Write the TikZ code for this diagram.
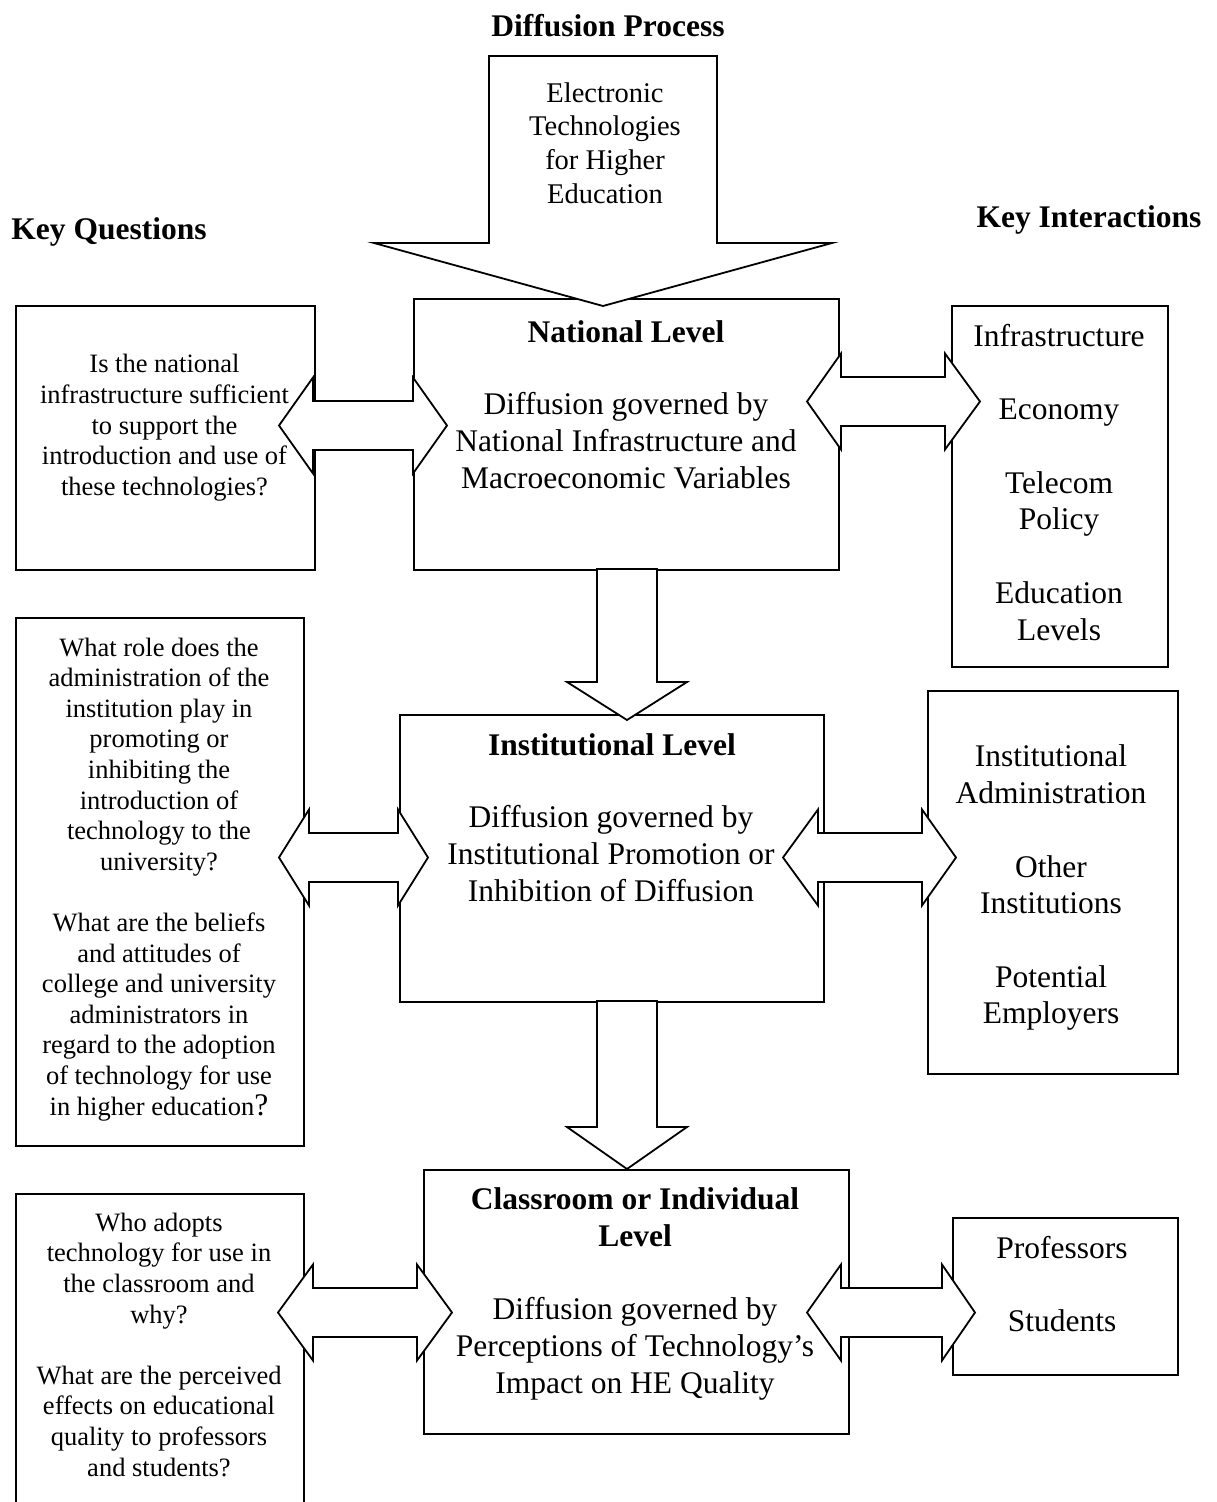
\documentclass[tikz,border=0pt]{standalone}
\usepackage{fontspec}
\setmainfont{Liberation Serif}
\begin{document}
\begin{tikzpicture}[x=1pt,y=-1pt,line width=1.8pt,line join=miter,
  box/.style={draw,rectangle,inner sep=0pt,anchor=north west},
  blockarrow/.style={draw,fill=white},
  txt/.style={align=center,inner sep=0pt,yshift=-4.5pt,execute at begin node=\strut,execute at end node=\strut},
  big/.style={txt,font=\fontsize{31.5}{37}\selectfont},
  bighead/.style={txt,font=\bfseries\fontsize{31.5}{37}\selectfont},
  small/.style={txt,font=\fontsize{26.5}{30.6}\selectfont},
  tech/.style={txt,font=\fontsize{28.5}{33.7}\selectfont}]
\useasboundingbox (0,0) rectangle (1217,1502);

% boxes
\node[box,minimum width=425pt,minimum height=271pt] (nat) at (413,298) {};
\node[box,minimum width=424pt,minimum height=287pt] (inst) at (399,714) {};
\node[box,minimum width=425pt,minimum height=264pt] (cls) at (423,1169) {};
\node[box,minimum width=299pt,minimum height=264pt] (q1) at (15,305) {};
\node[box,minimum width=288pt,minimum height=528pt] (q2) at (15,617) {};
\node[box,minimum width=288pt,minimum height=330pt] (q3) at (15,1193) {};
\node[box,minimum width=216pt,minimum height=361pt] (k1) at (951,305) {};
\node[box,minimum width=250pt,minimum height=383pt] (k2) at (927,690) {};
\node[box,minimum width=225pt,minimum height=157pt] (k3) at (952,1217) {};

% block arrows
\newcommand\dblarr[5]{%
 \draw[blockarrow] (#1,#5) -- (#2,{#5-48}) -- (#2,{#5-24.5}) -- (#3,{#5-24.5}) -- (#3,{#5-48}) -- (#4,#5)
   -- (#3,{#5+48}) -- (#3,{#5+24.5}) -- (#2,{#5+24.5}) -- (#2,{#5+48}) -- cycle;}
\draw[blockarrow] (489,56) -- (717,56) -- (717,243) -- (832,243) -- (603,306) -- (374,243) -- (489,243) -- cycle;
\draw[blockarrow] (597,569) -- (657,569) -- (657,682) -- (687,682) -- (627,720) -- (567,682) -- (597,682) -- cycle;
\draw[blockarrow] (597,1001) -- (657,1001) -- (657,1127) -- (687,1127) -- (627,1169) -- (567,1127) -- (597,1127) -- cycle;
\dblarr{279}{313}{413}{447}{425.5}
\dblarr{807}{841}{945}{980}{401.5}
\dblarr{279}{309}{398}{428}{857.5}
\dblarr{783}{818}{922}{956}{857.5}
\dblarr{278}{313}{417}{452}{1312.5}
\dblarr{807}{841}{942}{975}{1312.5}

% headings
\node[bighead] (title) at (608,25) {Diffusion Process};
\node[bighead] (kq) at (109,228) {Key Questions};
\node[bighead] (ki) at (1089,216) {Key Interactions};

% texts
\node[tech] (tech) at (605,143.5) {Electronic\\Technologies\\for Higher\\Education};

\node[bighead] (natH) at (626,331) {National Level};
\node[big] (natB) at (626,441) {Diffusion governed by\\National Infrastructure and\\Macroeconomic Variables};

\node[bighead] (instH) at (612,744) {Institutional Level};
\node[big] (instB) at (611,854) {Diffusion governed by\\Institutional Promotion or\\Inhibition of Diffusion};

\node[bighead] (clsH) at (635,1218.5) {Classroom or Individual\\Level};
\node[big] (clsB) at (635,1346.5) {Diffusion governed by\\Perceptions of Technology’s\\Impact on HE Quality};

\node[small] (q1T) at (164.5,425) {Is the national\\infrastructure sufficient\\to support the\\introduction and use of\\these technologies?};
\node[small] (q2T) at (159,876.5) {What role does the\\administration of the\\institution play in\\promoting or\\inhibiting the\\introduction of\\technology to the\\university?\\ \\What are the beliefs\\and attitudes of\\college and university\\administrators in\\regard to the adoption\\of technology for use\\in higher education{\fontsize{31.5}{30.6}\selectfont ?}};
\node[small] (q3T) at (159,1344.5) {Who adopts\\technology for use in\\the classroom and\\why?\\ \\What are the perceived\\effects on educational\\quality to professors\\and students?};

\node[big,font=\fontsize{31.5}{36.75}\selectfont] (k1T) at (1059,483) {Infrastructure\\ \\Economy\\ \\Telecom\\Policy\\ \\Education\\Levels};
\node[big,font=\fontsize{31.5}{36.7}\selectfont] (k2T) at (1051,885.5) {Institutional\\Administration\\ \\Other\\Institutions\\ \\Potential\\Employers};
\node[big,font=\fontsize{31.5}{36.5}\selectfont] (k3T) at (1062,1284.5) {Professors\\ \\Students};
\end{tikzpicture}
\end{document}
